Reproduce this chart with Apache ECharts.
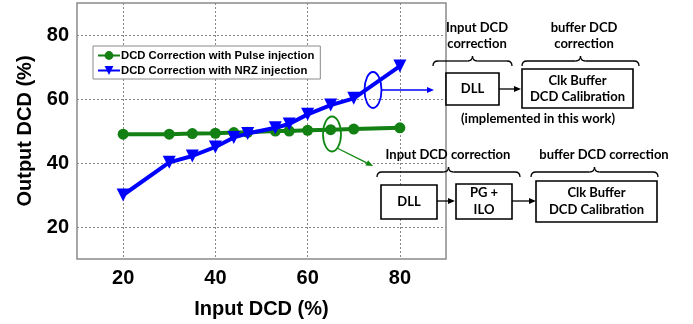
<!DOCTYPE html>
<html><head><meta charset="utf-8">
<script src="https://cdn.jsdelivr.net/npm/echarts@6/dist/echarts.min.js"></script>
<style>html,body{margin:0;padding:0;background:#fff}#c{width:693px;height:324px}</style>
</head><body><div id="c"></div>
<script>
var inputDCD = [20, 30, 35, 40, 44, 47, 53, 56, 60, 65, 70, 80];
var pulseOut = [49, 49, 49.2, 49.3, 49.5, 49.6, 50, 50, 50.2, 50.4, 50.6, 51];
var nrzOut = [30, 40.2, 42.2, 45, 48, 49.2, 51, 52.2, 55.2, 58.1, 60.2, 70.3];
var xTicks = [20, 40, 60, 80];
var yTicks = [20, 40, 60, 80];
var seriesNames = ['DCD Correction with Pulse injection', 'DCD Correction with NRZ injection'];

var chart = echarts.init(document.getElementById('c'), null, {renderer: 'canvas'});
var F = 'Liberation Sans, Arial, sans-serif';
var D = 'Lato, sans-serif';

function pairs(xs, ys) { return xs.map(function (x, i) { return [x, ys[i]]; }); }

var g = [];
function txt(x, y, s) {
  g.push({type: 'text', x: x, y: y, z: 100, style: {text: s, font: 'bold 13px ' + D, fill: '#000', textAlign: 'center', textVerticalAlign: 'middle'}});
}
function box(x1, y1, x2, y2) {
  g.push({type: 'rect', z: 90, shape: {x: x1, y: y1, width: x2 - x1, height: y2 - y1}, style: {fill: '#fff', stroke: '#000', lineWidth: 1.6}});
}
function arrow(x1, y1, x2, y2, col, w) {
  var a = Math.atan2(y2 - y1, x2 - x1), L = 7, W = 3;
  var bx = x2 - L * Math.cos(a), by = y2 - L * Math.sin(a);
  g.push({type: 'line', z: 95, shape: {x1: x1, y1: y1, x2: bx, y2: by}, style: {stroke: col, lineWidth: w}});
  g.push({type: 'polygon', z: 95, shape: {points: [[x2, y2], [bx - W * Math.sin(a), by + W * Math.cos(a)], [bx + W * Math.sin(a), by - W * Math.cos(a)]]}, style: {fill: col}});
}
function brace(x1, x2, y) {
  var xm = (x1 + x2) / 2, r = 5, st = {stroke: '#000', lineWidth: 1.3, fill: null};
  g.push({type: 'bezierCurve', z: 95, shape: {x1: x1, y1: y + r, cpx1: x1, cpy1: y, x2: x1 + r, y2: y}, style: st});
  g.push({type: 'line', z: 95, shape: {x1: x1 + r, y1: y, x2: xm - r, y2: y}, style: st});
  g.push({type: 'bezierCurve', z: 95, shape: {x1: xm - r, y1: y, cpx1: xm, cpy1: y, x2: xm, y2: y - r}, style: st});
  g.push({type: 'bezierCurve', z: 95, shape: {x1: xm, y1: y - r, cpx1: xm, cpy1: y, x2: xm + r, y2: y}, style: st});
  g.push({type: 'line', z: 95, shape: {x1: xm + r, y1: y, x2: x2 - r, y2: y}, style: st});
  g.push({type: 'bezierCurve', z: 95, shape: {x1: x2 - r, y1: y, cpx1: x2, cpy1: y, x2: x2, y2: y + r}, style: st});
}
function ell(cx, cy, rx, ry, col) {
  g.push({type: 'ellipse', z: 95, shape: {cx: cx, cy: cy, rx: rx, ry: ry}, style: {fill: null, stroke: col, lineWidth: 1.8}});
}

// annotations on the chart
ell(373, 90, 8.5, 18, '#0000ff');
arrow(382, 90, 434, 90, '#0000ff', 1.3);
ell(332, 134, 9, 17.5, '#118811');
arrow(337, 148, 373, 166, '#118811', 1.3);

// top block diagram
txt(477, 28, 'Input DCD'); txt(477, 44, 'correction');
txt(584, 28, 'buffer DCD'); txt(584, 44, 'correction');
brace(433, 512, 61); brace(522, 639, 61);
box(446, 73, 499, 105); txt(472.5, 89, 'DLL');
arrow(499, 89, 521, 89, '#000', 1.3);
box(522, 69, 633, 108); txt(577.5, 81, 'Clk Buffer'); txt(577.5, 97, 'DCD Calibration');
txt(538, 119, '(implemented in this work)');

// bottom block diagram
txt(448, 155, 'Input DCD correction'); txt(604, 155, 'buffer DCD correction');
brace(377, 520, 172); brace(531, 658, 172);
box(381, 185, 437, 219); txt(409, 202, 'DLL');
arrow(437, 201, 455, 201, '#000', 1.3);
box(456, 184, 512, 219); txt(484, 193, 'PG +'); txt(484, 210, 'ILO');
arrow(512, 201, 536, 201, '#000', 1.3);
box(536, 181, 657, 222); txt(596.5, 193, 'Clk Buffer'); txt(596.5, 210, 'DCD Calibration');

var option = {
  animation: false,
  grid: {left: 77, right: 247, top: 3, bottom: 64, show: true, borderColor: '#8a8a8a', borderWidth: 1.5, backgroundColor: 'transparent'},
  legend: {
    orient: 'vertical', left: 93, top: 46, data: seriesNames,
    backgroundColor: '#fff', borderColor: '#8a8a8a', borderWidth: 1, padding: [4, 6, 3, 4],
    itemGap: 4, itemWidth: 22, itemHeight: 11,
    textStyle: {fontFamily: F, fontWeight: 'bold', fontSize: 11.3, color: '#000', padding: [0, 0, 0, -4]}
  },
  xAxis: {
    type: 'value', min: 10, max: 90,
    name: 'Input DCD (%)', nameLocation: 'middle', nameGap: 40,
    nameTextStyle: {fontFamily: F, fontWeight: 'bold', fontSize: 20, color: '#000'},
    axisLine: {show: false},
    axisTick: {show: false, customValues: xTicks},
    axisLabel: {customValues: xTicks, margin: 9, fontFamily: F, fontWeight: 'bold', fontSize: 20, color: '#000'},
    splitLine: {show: true, lineStyle: {color: '#888', type: [2, 2], width: 1}}
  },
  yAxis: {
    type: 'value', min: 10, max: 90,
    name: 'Output DCD (%)', nameLocation: 'middle', nameGap: 42,
    nameTextStyle: {fontFamily: F, fontWeight: 'bold', fontSize: 20, color: '#000'},
    axisLine: {show: false},
    axisTick: {show: false, customValues: yTicks},
    axisLabel: {customValues: yTicks, margin: 8, fontFamily: F, fontWeight: 'bold', fontSize: 20, color: '#000'},
    splitLine: {show: true, lineStyle: {color: '#888', type: [2, 2], width: 1}}
  },
  series: [
    {name: seriesNames[0], type: 'line', data: pairs(inputDCD, pulseOut), symbol: 'circle', symbolSize: 11,
      itemStyle: {color: '#138013'}, lineStyle: {width: 4, color: '#138013'}, z: 3},
    {name: seriesNames[1], type: 'line', data: pairs(inputDCD, nrzOut), symbol: 'triangle', symbolRotate: 180, symbolSize: 13,
      itemStyle: {color: '#0000ff'}, lineStyle: {width: 4, color: '#0000ff'}, z: 4}
  ],
  graphic: g
};
chart.setOption(option);
</script></body></html>
